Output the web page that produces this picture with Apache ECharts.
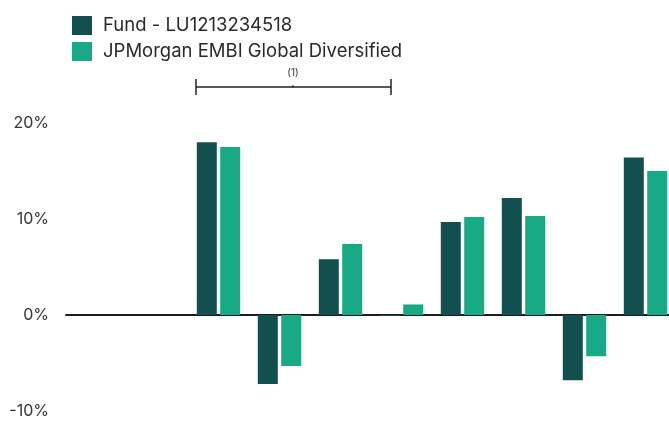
<!DOCTYPE html>
<html><head><meta charset="utf-8">
<script src="https://cdn.jsdelivr.net/npm/echarts@6/dist/echarts.min.js"></script>
<style>html,body{margin:0;padding:0;background:#fff;overflow:hidden}#c{width:680px;height:421px}</style>
</head><body><div id="c"></div>
<script>
var categories = ['2014','2015','2016','2017','2018','2019','2020','2021','2022','2023'];
var fundName = 'Fund - LU1213234518';
var benchName = 'JPMorgan EMBI Global Diversified';
var fundValues = [null, null, 18.0, -7.2, 5.8, -0.1, 9.7, 12.2, -6.8, 16.4];
var benchValues = [null, null, 17.5, -5.3, 7.4, 1.1, 10.2, 10.3, -4.3, 15.0];
var yTicks = [-10, 0, 10, 20];
var noteLabel = '(1)';

var chart = echarts.init(document.getElementById('c'), null, {renderer: 'canvas'});
var font = 'Inter, "Noto Sans", sans-serif';
chart.setOption({
  animation: false,
  textStyle: {fontFamily: font},
  legend: {
    orient: 'vertical', left: 72, top: 16, padding: 0, itemWidth: 20, itemHeight: 19, itemGap: 7,
    icon: 'rect', selectedMode: false,
    textStyle: {fontSize: 18.5, color: '#2a2a2a', fontFamily: font, padding: [0, 0, 0, 6]},
    data: [fundName, benchName]
  },
  grid: {left: 66, top: 123, width: 610, height: 288, containLabel: false},
  xAxis: {
    type: 'category', data: categories,
    axisLine: {show: true, lineStyle: {color: '#1e1e1e', width: 2}},
    axisTick: {show: false}, axisLabel: {show: false}, splitLine: {show: false}
  },
  yAxis: {
    type: 'value', min: yTicks[0], max: yTicks[yTicks.length - 1], interval: 10,
    axisLine: {show: false}, axisTick: {show: false}, splitLine: {show: false},
    axisLabel: {formatter: '{value}%', fontSize: 16, color: '#333', margin: 17, fontFamily: font}
  },
  series: [
    {name: fundName, type: 'bar', data: fundValues, barWidth: 20, barGap: '17%',
     itemStyle: {color: '#125050'}},
    {name: benchName, type: 'bar', data: benchValues, barWidth: 20, barGap: '17%',
     itemStyle: {color: '#18a985'}}
  ],
  graphic: [
    {type: 'line', shape: {x1: 196, y1: 87, x2: 391, y2: 87}, style: {stroke: '#222', lineWidth: 1.5}},
    {type: 'line', shape: {x1: 196, y1: 79, x2: 196, y2: 95}, style: {stroke: '#222', lineWidth: 1.5}},
    {type: 'line', shape: {x1: 391, y1: 79, x2: 391, y2: 95}, style: {stroke: '#222', lineWidth: 1.5}},
    {type: 'line', shape: {x1: 293, y1: 85, x2: 293, y2: 88}, style: {stroke: '#222', lineWidth: 1}},
    {type: 'text', x: 293, y: 73, style: {text: noteLabel, fontSize: 10, fill: '#333', align: 'center', verticalAlign: 'middle', fontFamily: font}}
  ]
});
</script></body></html>
